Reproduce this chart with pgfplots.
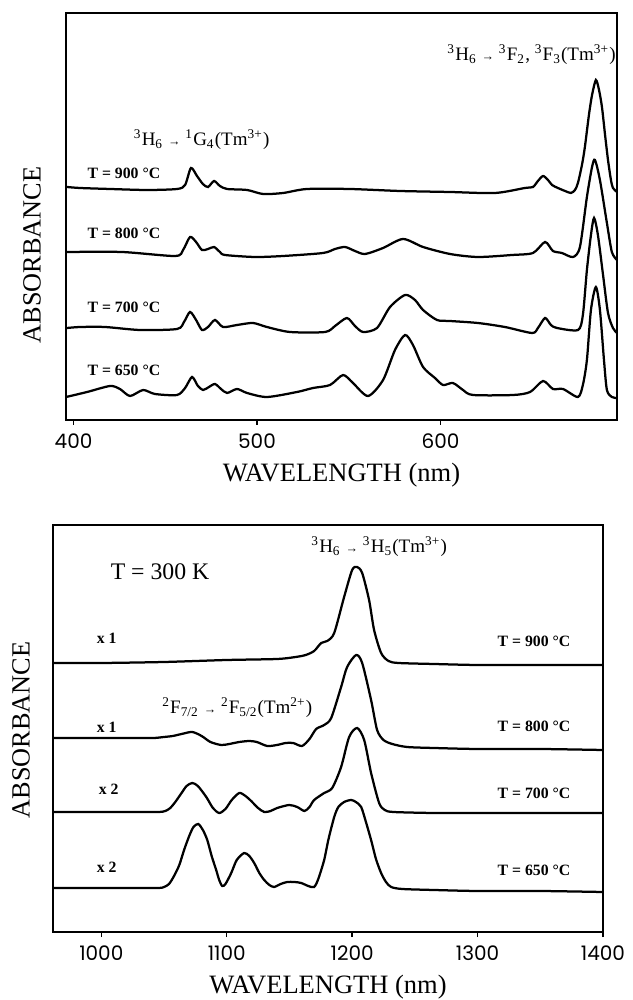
\documentclass[border=0pt]{standalone}
\usepackage{fontspec}
\setmainfont{Liberation Serif}
\newfontfamily\tickfont{Poppins}
\usepackage{pgfplots}
\pgfplotsset{compat=1.18}

\newcommand\tlab{\fontsize{6.3}{7}\selectfont\bfseries}
\newcommand\annot{\fontsize{7.6}{9}\selectfont}
\newcommand\arr{{\fontsize{5}{5}\selectfont →}}

\pgfplotsset{
  spec/.style={
    scale only axis, height=162.8pt,
    ymin=0, ymax=407, ytick=\empty,
    axis line style={line width=0.7pt},
    xtick pos=bottom, tick align=outside, major tick length=2pt,
    tick style={line width=0.6pt, black},
    ticklabel style={font=\tickfont\fontsize{8}{9}\selectfont},
    /pgf/number format/assume math mode=true,
    /pgf/number format/1000 sep={},
    clip=false,
    xlabel={WAVELENGTH (nm)},
    xlabel style={font=\fontsize{10.6}{12}\selectfont, at={(axis description cs:0.5,0)}, anchor=center, yshift=-22pt},
  },
  curve/.style={black, line width=0.9pt, smooth, tension=0.45, mark=none},
}

\begin{document}
\begin{tikzpicture}
\useasboundingbox (0,0) rectangle (252.8pt,400pt);

% upper panel: visible region
\begin{axis}[spec, at={(26.4pt,232pt)}, anchor=south west, width=220.4pt,
    xmin=395.9, xmax=696.2, xtick={400,500,600}]
% T = 900
\addplot[curve] coordinates {
(396.5,233) (403.5,232) (420,231) (440.1,230) (456.4,231) (460.8,235) (464.0,252)
(467.3,244) (470.5,236) (473.3,233) (476.6,239) (479.8,234) (483.7,231) (494.6,230)
(503.3,226) (514.2,227) (527.2,231) (550.7,231) (578.0,229) (605.2,228) (629.7,227)
(646.0,232) (650.4,233) (653.1,239) (655.9,244) (658.6,240) (660.8,235) (664.0,232)
(667.9,229) (671.1,227) (673.3,230) (674.9,237) (677.1,255) (678.7,273) (680.9,305)
(682.6,325) (684.7,340) (686.4,330) (688.0,313) (689.7,285) (691.3,260) (692.9,240)
(694.0,232) (696.2,228)
};
% T = 800
\addplot[curve] coordinates {
(396.5,168) (426.4,168) (455.3,164) (459.7,170) (463.5,183) (466.8,178) (470.0,170)
(473.3,171) (476.6,173) (479.8,168) (482.6,165) (498.9,163) (514.2,164) (536.0,167)
(542.5,171) (548.0,173) (553.4,169) (558.9,166) (568.7,172) (579.6,181) (590.5,173)
(605.2,166) (620.4,163) (638.9,165) (650.4,167) (657.0,178) (661.3,169) (666.2,167)
(672.2,163) (676.0,173) (679.8,223) (682.6,253) (684.2,260) (686.9,240) (690.7,197)
(693.4,168) (696.2,160)
};
% T = 700
\addplot[curve] coordinates {
(396.5,92) (403.5,93) (417.2,93) (436.2,90) (456.4,91) (460.2,98) (463.5,108)
(466.8,100) (470.0,90) (473.3,93) (477.1,100) (481.5,93) (489.1,95) (497.8,97)
(505.4,93) (518.0,88) (537.1,88) (542.5,94) (549.0,102) (553.4,94) (557.8,88)
(565.4,92) (572.5,113) (580.7,125) (586.1,120) (590.5,110) (598.1,100) (605.2,99)
(620.4,97) (635.1,93) (649.9,87) (653.1,92) (657.0,102) (660.2,95) (663.5,92)
(674.9,90) (677.6,105) (679.8,150) (682.0,185) (683.7,202) (685.8,185) (688.6,145)
(691.3,107) (694.0,92) (696.2,87)
};
% T = 650
\addplot[curve] coordinates {
(395.9,23) (407.4,28) (419.9,34) (425.3,31) (430.8,24) (437.9,30) (444.4,26)
(456.4,25) (460.8,32) (464.6,43) (467.8,34) (470.6,30) (473.8,33) (477.1,36)
(480.4,31) (483.7,27) (489.1,31) (494.6,27) (505.4,23) (521.8,28) (530.5,32)
(539.8,35) (546.9,45) (552.3,37) (560.5,24) (568.7,40) (575.2,70) (580.7,85)
(585.0,75) (590.5,53) (597.0,42) (601.4,35) (606.8,37) (612.3,30) (617.7,25)
(639.5,25) (648.8,28) (655.9,39) (661.3,31) (666.8,31) (674.9,23) (677.6,35)
(679.8,60) (682.0,110) (684.7,133) (686.9,110) (689.1,60) (690.7,30) (693.4,23)
(696.2,22)
};
\node[rotate=90, font=\fontsize{10.5}{12}\selectfont] at (axis description cs:-0.0617,0.405) {ABSORBANCE};
\node[anchor=west, inner sep=0pt, font=\tlab] at (axis cs:407.4,247) {T = 900 °C};
\node[anchor=west, inner sep=0pt, font=\tlab] at (axis cs:407.4,187) {T = 800 °C};
\node[anchor=west, inner sep=0pt, font=\tlab] at (axis cs:407.4,113) {T = 700 °C};
\node[anchor=west, inner sep=0pt, font=\tlab] at (axis cs:407.4,50) {T = 650 °C};
\node[inner sep=0pt, font=\annot] at (axis cs:469.8,280)
  {\textsuperscript{3}H\textsubscript{6} \arr{} \textsuperscript{1}G\textsubscript{4}(Tm\textsuperscript{3+})};
\node[inner sep=0pt, font=\annot] at (axis cs:649.6,365)
  {\textsuperscript{3}H\textsubscript{6} \arr{} \textsuperscript{3}F\textsubscript{2}, \textsuperscript{3}F\textsubscript{3}(Tm\textsuperscript{3+})};
\end{axis}

% lower panel: near infrared
\begin{axis}[spec, at={(21.2pt,27.2pt)}, anchor=south west, width=220pt,
    xmin=961.5, xmax=1400, xtick={1000,1100,1200,1300,1400}]
% T = 900
\addplot[curve] coordinates {
(961.5,269) (1000,269) (1050,270) (1100,272) (1140,273) (1155,275) (1163,277)
(1169.7,281) (1175.3,289) (1180.1,291) (1185.7,299) (1193.6,335) (1200.0,362)
(1204.0,365) (1208.0,359) (1213.5,332) (1217.5,302) (1223.1,279) (1229,271)
(1237,269) (1265.3,268) (1300,267) (1350,267) (1400,267)
};
% T = 800
\addplot[curve] coordinates {
(961.5,194) (1000,194) (1030,194) (1042,194) (1050,195) (1057,196) (1064,198)
(1072.5,200) (1080,196) (1087,190) (1095.6,187) (1102,188) (1110.0,190) (1118,191)
(1124,190) (1132.3,186) (1140,187) (1147,189) (1153,189) (1160,186) (1166,193)
(1171.3,203) (1177.7,207) (1183.3,214) (1191.2,245) (1196.0,265) (1203.2,277)
(1208.0,269) (1215.1,232) (1219.9,202) (1225,192) (1232,188) (1243.8,185)
(1265.3,184) (1300,183) (1350,183) (1400,182)
};
% T = 700
\addplot[curve] coordinates {
(961.5,120) (1000,120) (1030,120) (1046,120) (1051,121) (1055,124) (1059,130)
(1064,139) (1068,146) (1072.5,149) (1077,146) (1083.7,135) (1089,124) (1094.0,119)
(1099,123) (1104,132) (1110.0,139) (1115,136) (1119.5,131) (1125,124) (1129.9,120)
(1135,121) (1140.2,124) (1149.8,127) (1156.2,125) (1162,121) (1166,125)
(1169.7,132) (1177.7,139) (1184.1,144) (1191.2,165) (1197.6,195) (1204.0,204)
(1209.6,192) (1215.1,159) (1221.5,129) (1226,122) (1233,120) (1265.3,119)
(1300,119) (1350,119) (1400,119)
};
% T = 650
\addplot[curve] coordinates {
(961.5,44) (1000,44) (1030,44) (1046,44) (1050,45) (1054,48) (1058,56) (1062.2,67)
(1066,82) (1070.1,96) (1073.5,105) (1077.3,108) (1081,102) (1084.5,92) (1088,76)
(1091.6,62) (1094,52) (1096.4,46) (1099,48) (1103.6,59) (1108,72) (1113.9,79)
(1118,76) (1121.9,69) (1126,59) (1129.9,52) (1134,47) (1137.8,45) (1143,48)
(1148.2,50) (1154,50) (1159.4,49) (1165,46) (1169.7,45) (1173,53) (1177.7,72)
(1181,92) (1185.7,115) (1189,125) (1193.6,130) (1199.2,132) (1203,130)
(1207.2,125) (1211,110) (1215.1,92) (1219,73) (1223.1,59) (1227,50) (1231.1,45)
(1240,43) (1265.3,42) (1300,41) (1350,41) (1400,40)
};
\node[rotate=90, font=\fontsize{10.5}{12}\selectfont] at (axis description cs:-0.058,0.496) {ABSORBANCE};
\node[anchor=west, inner sep=0pt, font=\fontsize{9.5}{11}\selectfont] at (axis cs:1007.2,360) {T = 300 K};
\node[inner sep=0pt, font=\annot] at (axis cs:1221.5,385)
  {\textsuperscript{3}H\textsubscript{6} \arr{} \textsuperscript{3}H\textsubscript{5}(Tm\textsuperscript{3+})};
\node[inner sep=0pt, font=\annot] at (axis cs:1108.4,224)
  {\textsuperscript{2}F\textsubscript{7/2} \arr{} \textsuperscript{2}F\textsubscript{5/2}(Tm\textsuperscript{2+})};
\node[anchor=west, inner sep=0pt, font=\tlab] at (axis cs:996,294) {x 1};
\node[anchor=west, inner sep=0pt, font=\tlab] at (axis cs:996,205) {x 1};
\node[anchor=west, inner sep=0pt, font=\tlab] at (axis cs:997.6,143) {x 2};
\node[anchor=west, inner sep=0pt, font=\tlab] at (axis cs:996,65) {x 2};
\node[inner sep=0pt, font=\tlab] at (axis cs:1345,291) {T = 900 °C};
\node[inner sep=0pt, font=\tlab] at (axis cs:1345,206) {T = 800 °C};
\node[inner sep=0pt, font=\tlab] at (axis cs:1345,139) {T = 700 °C};
\node[inner sep=0pt, font=\tlab] at (axis cs:1345,62) {T = 650 °C};
\end{axis}
\end{tikzpicture}
\end{document}
